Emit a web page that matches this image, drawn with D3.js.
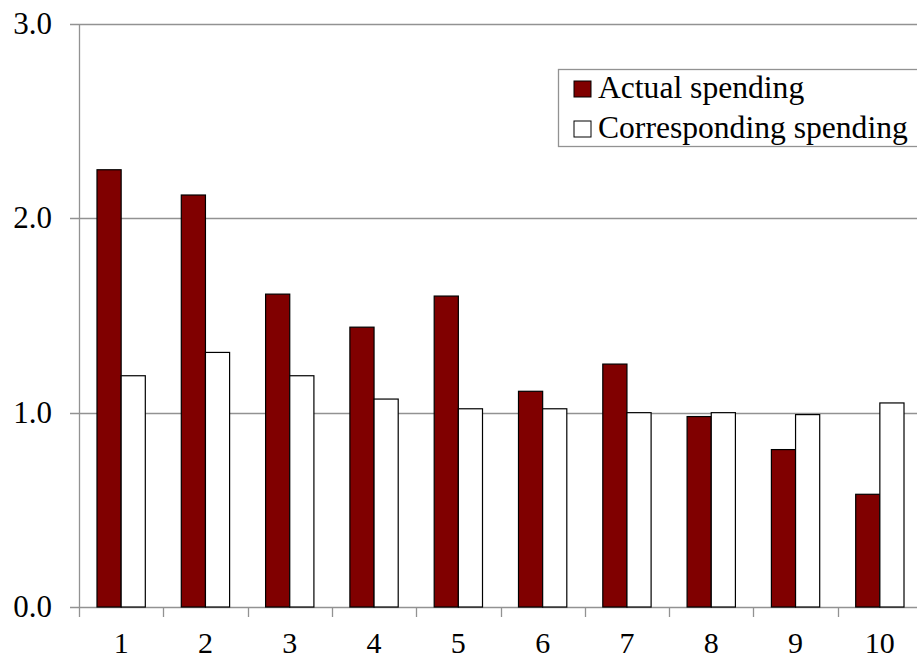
<!DOCTYPE html>
<html>
<head>
<meta charset="utf-8">
<script src="https://cdn.jsdelivr.net/npm/d3@7"></script>
</head>
<body style="margin:0">
<svg id="chart" width="917" height="663"></svg>
<script>
// Spending by group
const categories = ["1", "2", "3", "4", "5", "6", "7", "8", "9", "10"];
const seriesNames = ["Actual spending", "Corresponding spending"];
const actualSpending = [2.25, 2.12, 1.61, 1.44, 1.60, 1.11, 1.25, 0.98, 0.81, 0.58];
const correspondingSpending = [1.19, 1.31, 1.19, 1.07, 1.02, 1.02, 1.00, 1.00, 0.99, 1.05];
const yTicks = [0, 1, 2, 3];
const seriesColors = ["#800000", "#ffffff"];

const FONT = "Liberation Serif";

const svg = d3.select("#chart");
const margin = { left: 79, top: 24, right: -5, bottom: 56 };
const width = 917, height = 663;
const plotRight = width - margin.right;
const plotBottom = height - margin.bottom;

const x = d3.scaleBand().domain(categories).range([margin.left, plotRight]).padding(0);
const xInner = d3.scaleBand().domain(seriesNames).range([0, x.bandwidth()])
  .paddingInner(0).paddingOuter(0.745);
const y = d3.scaleLinear().domain([0, 3]).range([plotBottom, margin.top]);

// horizontal gridlines with left tick stubs
svg.append("g")
  .selectAll("line")
  .data(yTicks)
  .join("line")
  .attr("x1", margin.left - 9)
  .attr("x2", width)
  .attr("y1", d => Math.round(y(d)) + 0.5)
  .attr("y2", d => Math.round(y(d)) + 0.5)
  .attr("stroke", "#929292")
  .attr("stroke-width", 1.3);

// y axis line
svg.append("line")
  .attr("x1", margin.left + 0.5).attr("x2", margin.left + 0.5)
  .attr("y1", margin.top).attr("y2", plotBottom + 10)
  .attr("stroke", "#929292").attr("stroke-width", 1.3);

// y tick labels
svg.append("g")
  .selectAll("text")
  .data(yTicks)
  .join("text")
  .attr("x", 52)
  .attr("y", d => y(d) + 10)
  .attr("text-anchor", "end")
  .attr("font-family", FONT)
  .attr("font-size", 31)
  .style("font-family", FONT)
  .text(d => d3.format(".1f")(d));

// x axis tick marks at band boundaries
const boundaries = categories.map(c => x(c)).concat([x(categories[categories.length - 1]) + x.bandwidth()]);
svg.append("g")
  .selectAll("line")
  .data(boundaries.slice(1))
  .join("line")
  .attr("x1", d => Math.round(d) + 0.5)
  .attr("x2", d => Math.round(d) + 0.5)
  .attr("y1", plotBottom)
  .attr("y2", plotBottom + 10)
  .attr("stroke", "#929292").attr("stroke-width", 1.3);

// x tick labels
svg.append("g")
  .selectAll("text")
  .data(categories)
  .join("text")
  .attr("x", d => x(d) + x.bandwidth() / 2)
  .attr("y", 653)
  .attr("text-anchor", "middle")
  .attr("font-family", FONT)
  .attr("font-size", 30)
  .style("font-family", FONT)
  .text(d => d);

// bars
const rows = categories.map((c, i) => ({
  cat: c,
  values: [
    { name: seriesNames[0], value: actualSpending[i], color: seriesColors[0] },
    { name: seriesNames[1], value: correspondingSpending[i], color: seriesColors[1] }
  ]
}));

const groups = svg.append("g")
  .selectAll("g")
  .data(rows)
  .join("g")
  .attr("transform", d => `translate(${x(d.cat)},0)`);

groups.selectAll("rect")
  .data(d => d.values)
  .join("rect")
  .attr("x", d => xInner(d.name))
  .attr("y", d => y(d.value))
  .attr("width", xInner.bandwidth())
  .attr("height", d => y(0) - y(d.value))
  .attr("fill", d => d.color)
  .attr("stroke", "#000")
  .attr("stroke-width", 1.2);

// legend
const legend = svg.append("g");
legend.append("rect")
  .attr("x", 558.5).attr("y", 69.5)
  .attr("width", 380).attr("height", 77)
  .attr("fill", "#fff")
  .attr("stroke", "#929292").attr("stroke-width", 1.3);

const legendItems = legend.selectAll("g")
  .data(seriesNames)
  .join("g")
  .attr("transform", (d, i) => `translate(574, ${81 + i * 40})`);

legendItems.append("rect")
  .attr("x", 0).attr("y", 0)
  .attr("width", 17).attr("height", 16)
  .attr("fill", (d, i) => seriesColors[i])
  .attr("stroke", "#000").attr("stroke-width", 1);

legendItems.append("text")
  .attr("x", 24)
  .attr("y", 17)
  .attr("font-family", FONT)
  .attr("font-size", 31.6)
  .style("font-family", FONT)
  .text(d => d);
</script>
</body>
</html>
